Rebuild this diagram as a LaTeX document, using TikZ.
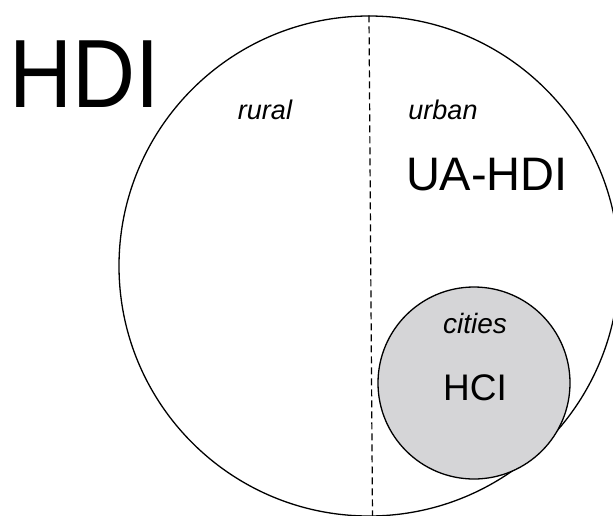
\documentclass[tikz,border=0pt]{standalone}
\usepackage{graphicx}
\usepackage{fontspec}
\setmainfont{Liberation Sans}
\definecolor{cityfill}{RGB}{213,213,215}
\begin{document}
\begin{tikzpicture}[x=1pt,y=-1pt,
  outline/.style={draw=black,line width=1.3pt},
  label/.style={inner sep=0pt,anchor=base},
  divider/.style={draw=black,line width=1.2pt,dash pattern=on 7pt off 4pt}]
  \useasboundingbox (0,0) rectangle (613,515);
  \clip (0,0) rectangle (613,515);
  % whole territory and its urban cities
  \node[outline,circle,minimum size=500pt,inner sep=0pt] (hdi) at (369,266) {};
  \node[outline,circle,fill=cityfill,minimum size=192pt,inner sep=0pt] (hci) at (474,383) {};
  % rural / urban divide
  \coordinate (divend) at (372.5,518);
  \draw[divider] (hdi.north) -- (divend);
  % labels
  \node[label,font=\fontsize{97}{97}\selectfont] (thdi) at (85,107) {\scalebox{0.9}[1]{HDI}};
  \node[label,font=\fontsize{27}{27}\selectfont\itshape] (trural) at (265,119) {rural};
  \node[label,font=\fontsize{27}{27}\selectfont\itshape] (turban) at (443,119) {urban};
  \node[label,font=\fontsize{47}{47}\selectfont] (tua) at (487,190) {UA-HDI};
  \node[label,font=\fontsize{28}{28}\selectfont\itshape] (tcities) at (475,333) {cities};
  \node[label,font=\fontsize{37}{37}\selectfont] (thci) at (475,400) {HCI};
\end{tikzpicture}
\end{document}
